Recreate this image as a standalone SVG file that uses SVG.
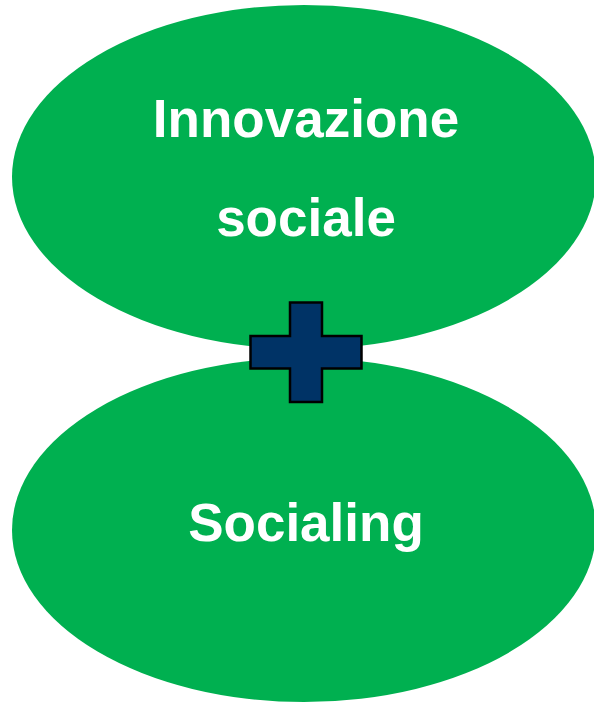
<svg xmlns="http://www.w3.org/2000/svg" width="594" height="702" viewBox="0 0 594 702">
<style>
.bubble{fill:#00B050;}
.lbl{font-family:"Liberation Sans",Arial,sans-serif;font-weight:bold;font-size:53px;fill:#FFFFFF;text-anchor:middle;}
.plus{fill:#003366;stroke:#000000;stroke-width:2.5;stroke-linejoin:miter;}
</style>
<rect width="594" height="702" fill="#FFFFFF"/>
<g id="node-innovazione">
<ellipse class="bubble" cx="304" cy="177" rx="292" ry="172"/>
<text class="lbl" x="306" y="137">Innovazione</text>
<text class="lbl" x="306" y="236">sociale</text>
</g>
<g id="node-socialing">
<ellipse class="bubble" cx="304" cy="530" rx="292" ry="172"/>
<text class="lbl" x="306" y="541">Socialing</text>
</g>
<g id="connectors">
<path id="plus" class="plus" d="M290,302.5 H322 V336 H361.5 V368.5 H322 V402 H290 V368.5 H250.5 V336 H290 Z"/>
</g>
</svg>
